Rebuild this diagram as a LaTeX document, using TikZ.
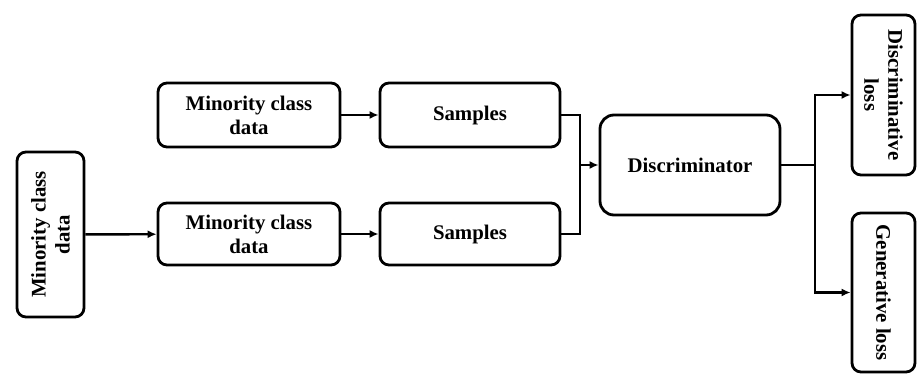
\documentclass[tikz,border=0pt]{standalone}
\usepackage{fontspec}
\setmainfont{Liberation Serif}
\usetikzlibrary{arrows.meta}
\tikzset{
  blk/.style={draw, line width=1.4pt, rounded corners=4.5pt, align=center,
    font=\fontsize{10.4}{12}\selectfont\bfseries, inner sep=1pt},
  flow/.style={line width=1.2pt, -{Latex[length=4.5pt,width=4pt]}},
  wire/.style={line width=1.2pt}
}
\begin{document}
\begin{tikzpicture}
  \useasboundingbox (0,0) rectangle (459pt,-187pt);
  %% INPUT
  \node[blk, rotate=90, minimum width=82.5pt, minimum height=33.5pt]
    (src) at (25.25pt,-117.25pt) {Minority class\\data};

  % top branch
  \node[blk, minimum width=91pt, minimum height=32pt]
    (mc1) at (124.5pt,-57.5pt) {Minority class\\data};
  \node[blk, minimum width=90pt, minimum height=32pt]
    (smp1) at (235pt,-57.5pt) {Samples};

  % bottom branch
  \node[blk, minimum width=91pt, minimum height=31pt]
    (mc2) at (124.5pt,-117pt) {Minority class\\data};
  \node[blk, minimum width=90pt, minimum height=31pt]
    (smp2) at (235pt,-117pt) {Samples};

  %% DISCRIMINATOR
  \node[blk, rounded corners=7pt, minimum width=90pt, minimum height=50pt]
    (disc) at (345pt,-82.5pt) {Discriminator};

  %% LOSSES
  \node[blk, rotate=-90, minimum width=80pt, minimum height=31.5pt]
    (dloss) at (441.75pt,-47.5pt) {Discriminative\\loss};
  \node[blk, rotate=-90, minimum width=79.5pt, minimum height=31.5pt]
    (gloss) at (441.75pt,-146.25pt) {Generative loss};

  % junctions
  \coordinate (jin) at (290pt,-82.5pt);
  \coordinate (jout) at (407.5pt,-82.5pt);

  % ARROWS
  \draw[flow] (src) -- (mc2);
  \draw[flow] (mc1) -- (smp1);
  \draw[flow] (mc2) -- (smp2);
  \draw[wire] (smp1.east) -| (jin);
  \draw[wire] (smp2.east) -| (jin);
  \draw[flow] (jin) -- (disc);
  \draw[wire] (disc.east) -- (jout);
  \draw[flow] (jout) |- (dloss);
  \draw[flow] (jout) |- (gloss);
\end{tikzpicture}
\end{document}
